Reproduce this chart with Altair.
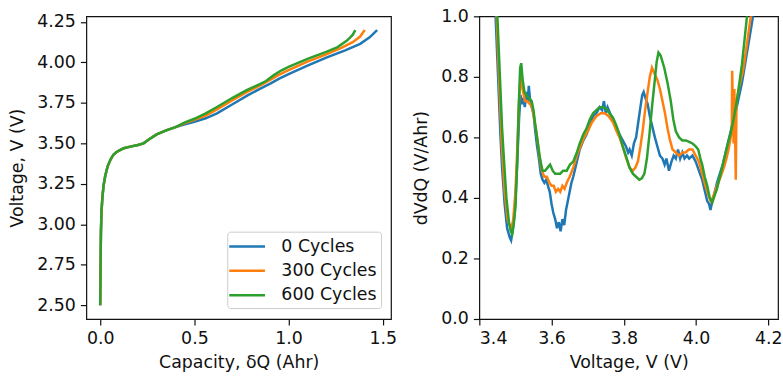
import altair as alt
import pandas as pd

SERIES = ["0 Cycles", "300 Cycles", "600 Cycles"]
COLORS = ["#1f77b4", "#ff7f0e", "#2ca02c"]

# ---- Left panel: Voltage vs capacity ----
q_low = [0.0, 0.002, 0.004, 0.007, 0.012, 0.018, 0.027, 0.04, 0.055, 0.07, 0.085, 0.1,
         0.125, 0.16, 0.2, 0.23, 0.26, 0.3, 0.35, 0.4]
v_low = [2.50, 2.75, 2.95, 3.08, 3.17, 3.24, 3.30, 3.36, 3.40, 3.43, 3.445, 3.455,
         3.47, 3.48, 3.49, 3.50, 3.525, 3.555, 3.58, 3.60]

q_c0 = [0.45, 0.50, 0.56, 0.62, 0.70, 0.78, 0.85, 0.90, 0.95, 1.0, 1.1, 1.2, 1.3, 1.38, 1.43, 1.47]
v_c0 = [3.618, 3.634, 3.655, 3.685, 3.74, 3.795, 3.838, 3.868, 3.900, 3.928, 3.98, 4.03, 4.075, 4.115, 4.155, 4.20]

q_c300 = [0.45, 0.50, 0.56, 0.62, 0.70, 0.78, 0.85, 0.90, 0.95, 1.0, 1.1, 1.2, 1.28, 1.34, 1.38, 1.404]
v_c300 = [3.625, 3.645, 3.672, 3.71, 3.765, 3.818, 3.858, 3.89, 3.925, 3.952, 4.005, 4.05, 4.09, 4.125, 4.16, 4.20]

q_c600 = [0.45, 0.50, 0.56, 0.62, 0.70, 0.78, 0.85, 0.88, 0.92, 0.96, 1.0, 1.1, 1.2, 1.26, 1.31, 1.34, 1.354]
v_c600 = [3.63, 3.652, 3.685, 3.725, 3.78, 3.83, 3.868, 3.885, 3.92, 3.95, 3.972, 4.022, 4.065, 4.095, 4.135, 4.17, 4.20]

# ---- Right panel: dV/dQ vs voltage ----
v0 = [3.436, 3.445, 3.452, 3.458, 3.463, 3.470, 3.477, 3.484, 3.488, 3.492, 3.496, 3.500, 3.505, 3.510,
      3.514, 3.518, 3.522, 3.526, 3.530, 3.534, 3.537, 3.540, 3.545, 3.550, 3.555, 3.560, 3.565, 3.570,
      3.575, 3.580, 3.585, 3.590, 3.595, 3.600, 3.605, 3.610, 3.615, 3.620, 3.625, 3.630, 3.635, 3.640,
      3.645, 3.650, 3.655, 3.660, 3.668, 3.678, 3.688, 3.697, 3.706, 3.715, 3.724, 3.733, 3.740, 3.745,
      3.750, 3.755, 3.762, 3.770, 3.779, 3.788, 3.797, 3.806, 3.812, 3.816, 3.822, 3.828, 3.834, 3.840,
      3.846, 3.851, 3.855, 3.860, 3.866, 3.872, 3.880, 3.886, 3.893, 3.900, 3.907, 3.913, 3.918, 3.925,
      3.932, 3.938, 3.944, 3.950, 3.956, 3.962, 3.968, 3.975, 3.981, 3.990, 3.999, 4.008, 4.017, 4.025,
      4.031, 4.036, 4.040, 4.045, 4.050, 4.058, 4.066, 4.074, 4.082, 4.090, 4.100, 4.109, 4.118, 4.127,
      4.134, 4.141, 4.148, 4.155, 4.160, 4.175]
d0 = [1.30, 1.00, 0.80, 0.62, 0.50, 0.38, 0.30, 0.27, 0.26, 0.29, 0.33, 0.39, 0.52, 0.66,
      0.74, 0.71, 0.73, 0.70, 0.75, 0.72, 0.77, 0.73, 0.70, 0.68, 0.62, 0.57, 0.53, 0.48,
      0.46, 0.45, 0.46, 0.44, 0.42, 0.38, 0.35, 0.33, 0.30, 0.32, 0.29, 0.33, 0.31, 0.36,
      0.39, 0.42, 0.45, 0.47, 0.51, 0.56, 0.59, 0.61, 0.64, 0.67, 0.68, 0.70, 0.69, 0.72,
      0.68, 0.70, 0.68, 0.66, 0.63, 0.61, 0.59, 0.57, 0.55, 0.56, 0.54, 0.58, 0.60, 0.65,
      0.70, 0.74, 0.75, 0.73, 0.71, 0.67, 0.63, 0.60, 0.57, 0.54, 0.53, 0.51, 0.53, 0.49,
      0.52, 0.54, 0.53, 0.56, 0.53, 0.55, 0.53, 0.54, 0.53, 0.54, 0.52, 0.49, 0.46, 0.42,
      0.39, 0.38, 0.36, 0.39, 0.41, 0.45, 0.48, 0.51, 0.55, 0.59, 0.64, 0.68, 0.73, 0.78,
      0.83, 0.88, 0.93, 0.98, 1.02, 1.20]

v300 = [3.440, 3.448, 3.455, 3.462, 3.470, 3.478, 3.484, 3.489, 3.494, 3.500, 3.505, 3.510, 3.515, 3.520,
        3.526, 3.532, 3.540, 3.546, 3.552, 3.559, 3.566, 3.573, 3.580, 3.587, 3.594, 3.600, 3.606, 3.612,
        3.618, 3.624, 3.630, 3.636, 3.642, 3.650, 3.660, 3.670, 3.680, 3.690, 3.700, 3.712, 3.724, 3.736,
        3.747, 3.758, 3.770, 3.780, 3.788, 3.797, 3.807, 3.816, 3.825, 3.832, 3.839, 3.846, 3.852, 3.859,
        3.866, 3.872, 3.878, 3.885, 3.893, 3.900, 3.907, 3.914, 3.921, 3.928, 3.935, 3.944, 3.953, 3.962,
        3.971, 3.980, 3.990, 3.999, 4.008, 4.017, 4.026, 4.034, 4.040, 4.046, 4.052, 4.058, 4.068, 4.077,
        4.084, 4.090, 4.096, 4.099, 4.100, 4.102, 4.104, 4.106, 4.108, 4.110, 4.112, 4.120, 4.130, 4.140,
        4.148, 4.154, 4.170]
d300 = [1.30, 1.00, 0.78, 0.58, 0.42, 0.33, 0.31, 0.30, 0.33, 0.42, 0.56, 0.72, 0.80, 0.76,
        0.72, 0.72, 0.71, 0.70, 0.66, 0.61, 0.54, 0.49, 0.47, 0.47, 0.45, 0.44, 0.44, 0.42,
        0.43, 0.42, 0.44, 0.43, 0.45, 0.47, 0.50, 0.54, 0.57, 0.60, 0.62, 0.65, 0.67, 0.68,
        0.68, 0.67, 0.65, 0.62, 0.60, 0.57, 0.53, 0.50, 0.49, 0.50, 0.52, 0.57, 0.62, 0.69,
        0.75, 0.80, 0.83, 0.81, 0.79, 0.76, 0.72, 0.68, 0.63, 0.59, 0.56, 0.55, 0.54, 0.55,
        0.55, 0.56, 0.56, 0.54, 0.52, 0.48, 0.44, 0.41, 0.39, 0.40, 0.42, 0.44, 0.47, 0.50,
        0.53, 0.56, 0.60, 0.64, 0.82, 0.70, 0.58, 0.76, 0.62, 0.46, 0.72, 0.77, 0.82, 0.90,
        0.97, 1.02, 1.20]

v600 = [3.442, 3.450, 3.457, 3.463, 3.468, 3.475, 3.482, 3.487, 3.491, 3.495, 3.500, 3.505, 3.509, 3.513,
        3.516, 3.520, 3.525, 3.530, 3.537, 3.545, 3.550, 3.555, 3.561, 3.568, 3.575, 3.582, 3.589, 3.596,
        3.603, 3.610, 3.617, 3.624, 3.632, 3.642, 3.651, 3.660, 3.670, 3.678, 3.688, 3.697, 3.706, 3.715,
        3.724, 3.733, 3.742, 3.751, 3.760, 3.770, 3.779, 3.788, 3.797, 3.807, 3.816, 3.825, 3.834, 3.843,
        3.850, 3.857, 3.864, 3.871, 3.878, 3.885, 3.891, 3.896, 3.902, 3.912, 3.921, 3.930, 3.937, 3.944,
        3.953, 3.962, 3.972, 3.981, 3.990, 3.999, 4.006, 4.012, 4.017, 4.024, 4.031, 4.038, 4.045, 4.052,
        4.058, 4.068, 4.077, 4.086, 4.095, 4.104, 4.113, 4.120, 4.127, 4.134, 4.141, 4.155]
d600 = [1.30, 1.00, 0.80, 0.63, 0.53, 0.40, 0.32, 0.29, 0.28, 0.31, 0.37, 0.52, 0.70, 0.83,
        0.845, 0.79, 0.75, 0.74, 0.73, 0.72, 0.69, 0.64, 0.59, 0.53, 0.49, 0.49, 0.50, 0.51,
        0.49, 0.48, 0.48, 0.48, 0.49, 0.49, 0.51, 0.52, 0.55, 0.58, 0.61, 0.63, 0.66, 0.68,
        0.69, 0.70, 0.70, 0.695, 0.68, 0.665, 0.64, 0.61, 0.57, 0.535, 0.50, 0.48, 0.47, 0.46,
        0.465, 0.48, 0.53, 0.61, 0.70, 0.78, 0.85, 0.88, 0.87, 0.83, 0.78, 0.72, 0.66, 0.62,
        0.60, 0.59, 0.59, 0.585, 0.58, 0.57, 0.56, 0.53, 0.51, 0.47, 0.44, 0.40, 0.385, 0.41,
        0.43, 0.48, 0.525, 0.57, 0.61, 0.66, 0.72, 0.78, 0.84, 0.92, 1.00, 1.20]

# ---- Tables ----
left_rows = []
for name, qs, vs in [(SERIES[0], q_c0, v_c0), (SERIES[1], q_c300, v_c300), (SERIES[2], q_c600, v_c600)]:
    for q, v in zip(q_low + qs, v_low + vs):
        left_rows.append({"q": q, "v": v, "series": name})
left_df = pd.DataFrame(left_rows)

right_rows = []
for name, vs, ds in [(SERIES[0], v0, d0), (SERIES[1], v300, d300), (SERIES[2], v600, d600)]:
    for v, d in zip(vs, ds):
        right_rows.append({"v": v, "d": d, "series": name})
right_df = pd.DataFrame(right_rows)

FONT = "DejaVu Sans"
FS = 17.5

color_scale = alt.Scale(domain=SERIES, range=COLORS)

left = alt.Chart(left_df).mark_line(strokeWidth=2.5, clip=True).encode(
    x=alt.X("q:Q", scale=alt.Scale(domain=[-0.0735, 1.5435], nice=False, zero=False),
            axis=alt.Axis(values=[0.0, 0.5, 1.0, 1.5], format=".1f", title="Capacity, δQ (Ahr)",
                          titlePadding=6)),
    y=alt.Y("v:Q", scale=alt.Scale(domain=[2.415, 4.285], nice=False, zero=False),
            axis=alt.Axis(values=[2.5, 2.75, 3.0, 3.25, 3.5, 3.75, 4.0, 4.25], format=".2f",
                          title="Voltage, V (V)")),
    color=alt.Color("series:N", scale=color_scale, sort=SERIES,
                    legend=alt.Legend(orient="none", legendX=142, legendY=217, title=None,
                                      symbolType="M-2,0H2", symbolSize=324, symbolStrokeWidth=2.5,
                                      labelFontSize=FS, labelFont=FONT, labelColor="#111",
                                      fillColor="white", strokeColor="#cccccc", cornerRadius=3,
                                      padding=4.5, rowPadding=5.5, symbolOffset=5, labelOffset=24)),
).properties(width=307, height=305)

right = alt.Chart(right_df).mark_line(strokeWidth=2.5, clip=True).encode(
    x=alt.X("v:Q", scale=alt.Scale(domain=[3.4, 4.227], nice=False, zero=False),
            axis=alt.Axis(values=[3.4, 3.6, 3.8, 4.0, 4.2], format=".1f", title="Voltage, V (V)",
                          titlePadding=6)),
    y=alt.Y("d:Q", scale=alt.Scale(domain=[0.0, 1.0], nice=False, zero=False),
            axis=alt.Axis(values=[0.0, 0.2, 0.4, 0.6, 0.8, 1.0], format=".1f", title="dVdQ (V/Ahr)")),
    color=alt.Color("series:N", scale=color_scale, sort=SERIES, legend=None),
).properties(width=301, height=305)

chart = alt.hconcat(left, right, spacing=89, bounds="flush").resolve_scale(
    color="independent"
).properties(
    padding={"left": 8, "top": 5, "right": 0, "bottom": 2},
    background="white",
).configure_view(
    stroke="#111", strokeWidth=1.2
).configure_axis(
    domain=False, grid=False, ticks=True, tickSize=6, tickColor="#111", tickWidth=1.2,
    labelFont=FONT, labelFontSize=FS, labelColor="#111", labelPadding=5,
    titleFont=FONT, titleFontSize=FS, titleFontWeight="normal", titleColor="#111", titlePadding=10,
)

chart.save("out.html", embed_options={"renderer": "svg", "actions": False})
